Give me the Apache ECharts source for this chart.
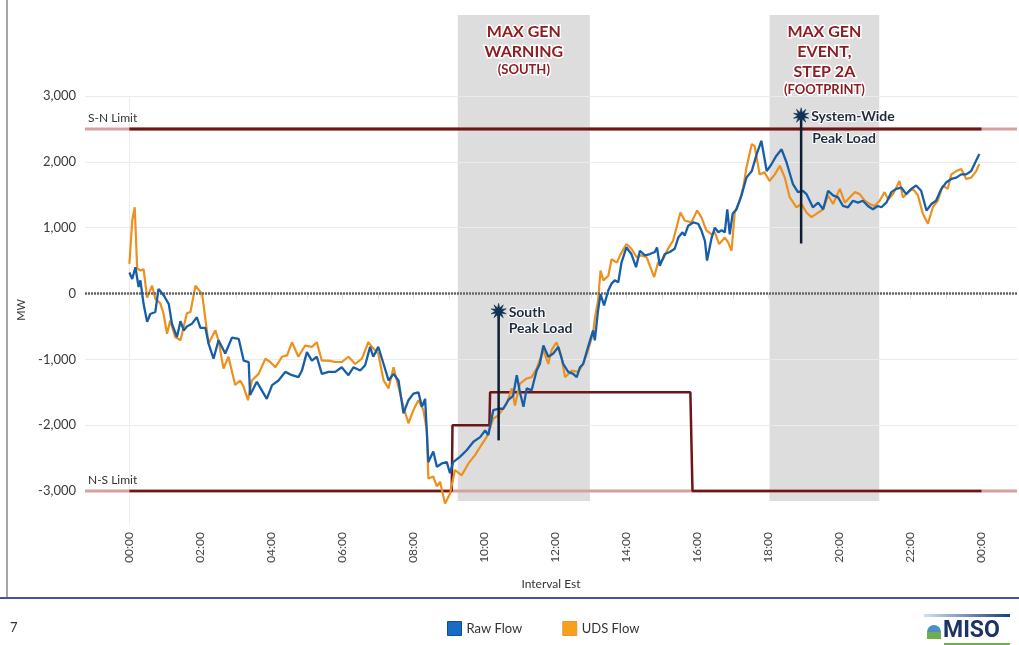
<!DOCTYPE html>
<html>
<head>
<meta charset="utf-8">
<script src="https://cdn.jsdelivr.net/npm/echarts@6/dist/echarts.min.js"></script>
<style>
html,body{margin:0;padding:0;background:#fff;}
#chart{width:1019px;height:645px;}
</style>
</head>
<body>
<div id="chart"></div>
<script>
// ---------- DATA ----------
const rawHours = [0.00,0.08,0.17,0.26,0.31,0.40,0.50,0.59,0.73,0.82,0.97,1.11,1.20,1.34,1.44,1.53,1.62,1.76,1.90,2.00,2.14,2.23,2.37,2.51,2.70,2.89,3.08,3.22,3.36,3.40,3.59,3.73,3.87,4.02,4.20,4.39,4.58,4.76,4.86,5.00,5.14,5.28,5.42,5.61,5.80,5.98,6.17,6.31,6.50,6.64,6.78,6.87,7.01,7.16,7.30,7.44,7.58,7.72,7.86,8.00,8.14,8.24,8.33,8.42,8.56,8.66,8.80,8.94,9.03,9.12,9.31,9.50,9.69,9.88,10.02,10.11,10.25,10.39,10.53,10.67,10.81,10.91,11.00,11.10,11.19,11.33,11.47,11.56,11.66,11.80,11.94,12.08,12.22,12.36,12.50,12.60,12.69,12.78,12.92,13.06,13.11,13.20,13.27,13.37,13.49,13.58,13.67,13.77,13.86,14.00,14.14,14.27,14.38,14.52,14.66,14.80,14.86,14.94,15.08,15.22,15.36,15.46,15.58,15.64,15.74,15.88,16.02,16.11,16.21,16.27,16.40,16.49,16.59,16.68,16.77,16.84,16.91,16.99,17.10,17.24,17.38,17.53,17.67,17.80,17.95,18.08,18.22,18.37,18.51,18.69,18.83,18.97,19.07,19.25,19.40,19.54,19.68,19.82,19.96,20.10,20.24,20.38,20.52,20.66,20.80,20.94,21.08,21.18,21.32,21.46,21.60,21.74,21.88,22.02,22.16,22.30,22.45,22.59,22.72,22.87,23.01,23.15,23.29,23.43,23.57,23.71,23.85,23.94];
const rawFlow = [320,220,400,100,200,-160,-430,-310,-280,70,-30,-160,-460,-660,-420,-560,-500,-460,-360,-520,-520,-760,-990,-710,-910,-670,-690,-1020,-1040,-1540,-1340,-1470,-1600,-1390,-1320,-1190,-1240,-1270,-1170,-890,-1020,-960,-1220,-1190,-1190,-1120,-1240,-1120,-1170,-1090,-810,-960,-810,-1070,-1320,-1220,-1320,-1820,-1620,-1520,-1500,-1720,-1600,-2560,-2400,-2630,-2580,-2560,-2730,-2560,-2480,-2380,-2250,-2180,-2080,-2150,-1770,-1750,-1750,-1620,-1550,-1240,-1500,-1720,-1440,-1470,-1170,-1070,-790,-960,-910,-810,-1070,-1190,-1220,-1270,-1120,-1070,-810,-560,-710,-260,-10,-180,50,150,200,170,470,700,600,400,650,580,600,630,700,420,600,630,680,850,930,880,1030,1080,1060,960,800,500,850,1000,930,960,930,1280,900,1210,1280,1490,1760,1860,2120,2320,1860,1960,2090,2190,1990,1660,1540,1560,1510,1310,1380,1280,1560,1490,1460,1330,1310,1410,1380,1410,1330,1280,1330,1310,1380,1540,1590,1610,1510,1590,1640,1560,1260,1360,1410,1590,1690,1740,1760,1810,1810,1860,2020,2120];

const udsHours = [0.00,0.08,0.15,0.22,0.31,0.40,0.50,0.64,0.73,0.87,0.96,1.06,1.15,1.29,1.44,1.62,1.72,1.86,2.05,2.23,2.42,2.51,2.65,2.79,2.98,3.12,3.22,3.34,3.45,3.64,3.83,3.97,4.11,4.30,4.44,4.58,4.76,4.95,5.14,5.28,5.42,5.61,5.80,5.98,6.17,6.36,6.55,6.73,6.83,7.01,7.16,7.30,7.44,7.58,7.72,7.86,8.00,8.14,8.28,8.38,8.42,8.56,8.66,8.75,8.89,9.03,9.17,9.36,9.55,9.74,9.88,10.06,10.25,10.39,10.63,10.77,10.86,11.00,11.19,11.33,11.47,11.66,11.80,11.89,12.03,12.17,12.27,12.46,12.64,12.78,12.92,13.06,13.11,13.20,13.27,13.35,13.49,13.58,13.73,13.82,14.00,14.14,14.29,14.42,14.57,14.66,14.78,14.89,15.03,15.17,15.31,15.41,15.52,15.64,15.83,15.99,16.11,16.25,16.40,16.49,16.61,16.77,16.86,16.96,17.05,17.19,17.29,17.38,17.53,17.61,17.75,17.89,18.03,18.18,18.32,18.46,18.60,18.79,18.93,19.07,19.21,19.35,19.54,19.68,19.82,20.01,20.15,20.29,20.43,20.57,20.71,20.85,20.99,21.13,21.27,21.37,21.51,21.69,21.79,21.93,22.07,22.21,22.35,22.49,22.63,22.77,22.91,23.05,23.15,23.29,23.43,23.57,23.71,23.85,23.94];
const udsFlow = [450,1110,1310,380,350,370,-60,120,-80,-150,-300,-610,-410,-660,-710,-300,-280,120,-10,-760,-560,-710,-1140,-960,-1390,-1320,-1420,-1620,-1320,-1220,-990,-1040,-1120,-960,-940,-740,-960,-790,-810,-740,-1020,-1020,-1040,-1040,-960,-1070,-990,-740,-810,-910,-1320,-1440,-1120,-1420,-1720,-1970,-1770,-1620,-1770,-2080,-2810,-2780,-2930,-2860,-3190,-3040,-2680,-2760,-2580,-2450,-2330,-2180,-1900,-1850,-1670,-1440,-1700,-1370,-1290,-1270,-1140,-860,-1070,-860,-740,-960,-1270,-1170,-1190,-1070,-860,-600,-380,-110,350,200,270,520,470,580,750,680,550,580,550,420,250,470,520,680,800,1000,1230,1110,1080,1260,1160,960,900,930,750,850,780,650,1230,1410,1610,1910,2270,2240,1810,1840,1710,1810,1940,1760,1460,1310,1360,1230,1160,1210,1280,1490,1360,1590,1380,1460,1540,1510,1410,1360,1330,1410,1540,1430,1510,1710,1460,1540,1590,1490,1210,1060,1310,1410,1640,1590,1810,1860,1890,1740,1760,1860,1970];

// limits (MW) and the N-S step limit
const limitHours = [0, 24];
const snLimitMW = [2500, 2500];
const nsBaseMW = [-3000, -3000];
const nsStepHours = [0, 9.08, 9.10, 10.14, 10.16, 15.80, 15.86, 24];
const nsStepMW = [-3000, -3000, -2000, -2000, -1500, -1500, -3000, -3000];
const limitLabels = ['S-N Limit', 'N-S Limit'];

// shaded event windows
const shadeStart = [9.25, 18.03];
const shadeEnd = [12.97, 21.12];
const shadeTitles = [['MAX GEN', 'WARNING', '(SOUTH)'], ['MAX GEN', 'EVENT,', 'STEP 2A', '(FOOTPRINT)']];

// peak-load markers
const peakHours = [10.40, 18.92];
const peakTopMW = [-270, 2700];
const peakBottomMW = [-2230, 760];
const peakLabels = [['South', 'Peak Load'], ['System-Wide', 'Peak Load']];

// axis ticks
const xLabelHours = [0, 2, 4, 6, 8, 10, 12, 14, 16, 18, 20, 22, 24];
const xTickHours = [0,1,2,3,4,5,6,7,8,9,10,11,12,13,14,15,16,17,18,19,20,21,22,23,24];

// ---------- CHART ----------
const FONT = 'Lato, "Open Sans", sans-serif';
const DARKRED = '#6e1518';
const PINK = '#d6a0a0';
const BLUE = '#175ea9';
const ORANGE = '#ee901d';
const TITLE_RED = '#8c1d22';
const X_MIN = -1.25, X_MAX = 25;

const pair = (xs, ys) => xs.map((x, i) => [x, ys[i]]);
const fmtHour = h => String(h % 24).padStart(2, '0') + ':00';
const fmtMW = v => (v < 0 ? '-' : '') + Math.abs(v).toLocaleString('en-US');

const shadeData = shadeStart.map((s, i) => [s, shadeEnd[i], 4230, -3150, i]);
const peakData = peakHours.map((h, i) => [h, peakTopMW[i], peakBottomMW[i], i]);
const limitLabelData = [[X_MIN, snLimitMW[0], 0], [X_MIN, nsBaseMW[0], 1]];

function starPoints(cx, cy, r1, r2, n) {
  const pts = [];
  for (let k = 0; k < n * 2; k++) {
    const r = k % 2 === 0 ? r1 : r2;
    const a = Math.PI * k / n - Math.PI / 2;
    pts.push([cx + r * Math.cos(a), cy + r * Math.sin(a)]);
  }
  return pts;
}

const chart = echarts.init(document.getElementById('chart'), null, {renderer: 'canvas'});
chart.setOption({
  animation: false,
  backgroundColor: '#fff',
  textStyle: {fontFamily: FONT},
  grid: {left: 85, right: 2, top: 96, bottom: 121, containLabel: false},
  legend: {
    left: 442, top: 616, itemWidth: 14, itemHeight: 14, itemGap: 40, icon: 'rect',
    textStyle: {fontFamily: FONT, fontSize: 13, color: '#333'},
    data: [
      {name: 'Raw Flow', itemStyle: {color: '#1a6bc4', borderColor: '#0f4f9a', borderWidth: 1}},
      {name: 'UDS Flow', itemStyle: {color: '#f7a020', borderColor: '#e9952a', borderWidth: 1}}
    ]
  },
  xAxis: {
    type: 'value', min: X_MIN, max: X_MAX,
    name: 'Interval Est', nameLocation: 'middle', nameGap: 54,
    nameTextStyle: {fontFamily: FONT, fontSize: 12, color: '#333'},
    axisLine: {show: true, lineStyle: {color: '#e6e6e6', width: 1}},
    axisTick: {show: true, customValues: xTickHours, length: 5, lineStyle: {color: '#e0e0e0'}},
    axisLabel: {customValues: xLabelHours, rotate: 90, margin: 8, fontSize: 12, color: '#444',
      fontFamily: FONT, formatter: v => fmtHour(v)},
    splitLine: {show: false}
  },
  yAxis: {
    type: 'value', min: -3500, max: 3000, interval: 500,
    name: 'MW', nameLocation: 'middle', nameGap: 58,
    nameTextStyle: {fontFamily: FONT, fontSize: 11, color: '#333'},
    axisLine: {show: true, lineStyle: {color: '#ececec'}},
    axisTick: {show: false},
    axisLabel: {margin: 9, fontSize: 13, color: '#3a3a3a', fontFamily: FONT,
      formatter: v => (v % 1000 === 0 ? fmtMW(v) : '')},
    splitLine: {show: true, lineStyle: {color: ['rgba(0,0,0,0)', '#ebebeb'], width: 1}}
  },
  series: [
    {
      type: 'custom', name: 'shade', z: -1, silent: true, clip: false,
      data: shadeData,
      renderItem: (params, api) => {
        const p0 = api.coord([api.value(0), api.value(2)]);
        const p1 = api.coord([api.value(1), api.value(3)]);
        const lines = shadeTitles[api.value(4)];
        const n = lines.length;
        const text = lines.map((t, k) => (k === n - 1 ? '{b|' + t + '}' : '{a|' + t + '}')).join('\n');
        return {type: 'group', children: [
          {type: 'rect', shape: {x: p0[0], y: p0[1], width: p1[0] - p0[0], height: p1[1] - p0[1]},
            style: {fill: '#dddddd'}},
          {type: 'text', x: (p0[0] + p1[0]) / 2, y: p0[1] + 7, z2: 10,
            style: {text: text, align: 'center', verticalAlign: 'top', fill: TITLE_RED,
              rich: {
                a: {fontFamily: FONT, fontWeight: 'bold', fontSize: 16, lineHeight: 20, fill: TITLE_RED,
                  stroke: '#ffffff', lineWidth: 3, align: 'center'},
                b: {fontFamily: FONT, fontWeight: 'bold', fontSize: 13, lineHeight: 16, fill: TITLE_RED,
                  stroke: '#ffffff', lineWidth: 3, align: 'center'}
              }}}
        ]};
      }
    },
    {
      type: 'line', name: 'snBase', data: [[X_MIN, snLimitMW[0]], [X_MAX, snLimitMW[1]]],
      showSymbol: false, silent: true, lineStyle: {color: PINK, width: 3}, z: 1,
      markLine: {silent: true, symbol: 'none', label: {show: false},
        lineStyle: {color: '#666666', type: [2, 1], width: 2.5}, data: [{yAxis: 0}]}
    },
    {
      type: 'line', name: 'nsBase', data: [[X_MIN, nsBaseMW[0]], [X_MAX, nsBaseMW[1]]],
      showSymbol: false, silent: true, lineStyle: {color: PINK, width: 3}, z: 1
    },
    {
      type: 'line', name: 'snLimit', data: pair(limitHours, snLimitMW),
      showSymbol: false, silent: true, lineStyle: {color: DARKRED, width: 3}, z: 2
    },
    {
      type: 'line', name: 'nsLimit', data: pair(nsStepHours, nsStepMW),
      showSymbol: false, silent: true, lineStyle: {color: DARKRED, width: 2.5}, z: 2
    },
    {
      type: 'custom', name: 'limitLabels', silent: true, clip: false, z: 3,
      data: limitLabelData,
      renderItem: (params, api) => {
        const p = api.coord([api.value(0), api.value(1)]);
        return {type: 'text', x: p[0] + 3, y: p[1] - 11,
          style: {text: limitLabels[api.value(2)], fontFamily: FONT, fontSize: 12, fill: '#333',
            align: 'left', verticalAlign: 'middle'}};
      }
    },
    {
      type: 'line', name: 'UDS Flow', data: pair(udsHours, udsFlow),
      showSymbol: false, color: ORANGE, lineStyle: {color: ORANGE, width: 2.2}, z: 4
    },
    {
      type: 'line', name: 'Raw Flow', data: pair(rawHours, rawFlow),
      showSymbol: false, color: BLUE, lineStyle: {color: BLUE, width: 2.3}, z: 5
    },
    {
      type: 'custom', name: 'peaks', silent: true, clip: false, z: 8,
      data: peakData,
      renderItem: (params, api) => {
        const top = api.coord([api.value(0), api.value(1)]);
        const bot = api.coord([api.value(0), api.value(2)]);
        const idx = api.value(3);
        const lines = peakLabels[idx];
        const lh = idx === 0 ? 16 : 22;
        const txt = (t, x, y) => ({type: 'text', x: x, y: y,
          style: {text: t, fontFamily: FONT, fontWeight: 'bold', fontSize: 14, fill: '#1d2b3e',
            stroke: '#ffffff', lineWidth: 2, align: 'left', verticalAlign: 'middle'}});
        return {type: 'group', children: [
          {type: 'line', shape: {x1: top[0], y1: top[1], x2: bot[0], y2: bot[1]},
            style: {stroke: '#0d1e33', lineWidth: 2.5}},
          {type: 'polygon', shape: {points: starPoints(top[0], top[1], 8, 3.5, 10)},
            style: {fill: '#0f3357', stroke: '#0b2440', lineWidth: 0.5}},
          txt(lines[0], top[0] + 10, top[1] + 1),
          txt(lines[1], top[0] + (idx === 0 ? 10 : 11), top[1] + 1 + lh)
        ]};
      }
    }
  ],
  graphic: [
    {type: 'line', shape: {x1: 7, y1: 0, x2: 7, y2: 598}, style: {stroke: '#6b6b6b', lineWidth: 1.2}},
    {type: 'line', shape: {x1: 0, y1: 598, x2: 1019, y2: 598}, style: {stroke: '#4d4f97', lineWidth: 2}},
    {type: 'text', left: 10, top: 621, style: {text: '7', fontFamily: FONT, fontSize: 13, fill: '#333'}},
    {type: 'group', left: 924, top: 614, children: [
      {type: 'rect', shape: {x: 0, y: 0, width: 86, height: 3},
        style: {fill: new echarts.graphic.LinearGradient(0, 0, 1, 0, [{offset: 0, color: '#cfe0f2'}, {offset: 1, color: '#1d3f74'}])}},
      {type: 'circle', shape: {cx: 10, cy: 18, r: 7}, style: {fill: '#4a90c8'}},
      {type: 'rect', shape: {x: 3, y: 18, width: 14, height: 7}, style: {fill: '#6fae4a'}},
      {type: 'text', x: 19, y: 6, style: {text: 'MISO', fontFamily: 'Roboto, sans-serif', fontWeight: 'bold',
        fontSize: 23, fill: '#1b3366'}},
      {type: 'rect', shape: {x: 20, y: 29, width: 66, height: 2}, style: {fill: '#6fae4a'}}
    ]}
  ]
});
</script>
</body>
</html>
